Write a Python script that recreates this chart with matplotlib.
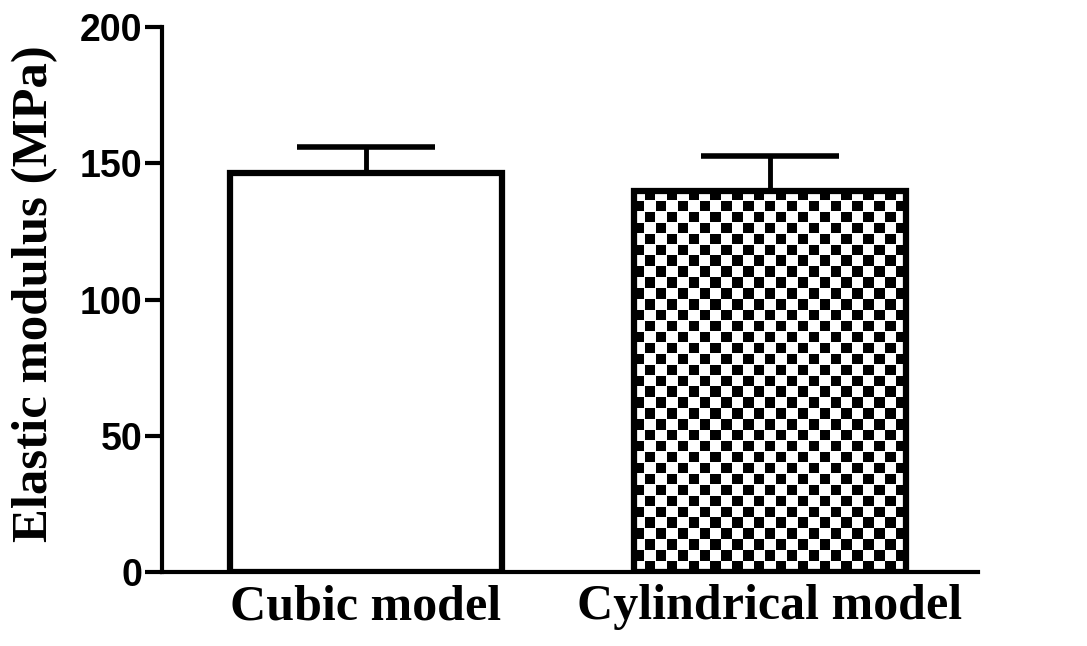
import numpy as np
import matplotlib.pyplot as plt

categories = ["Cubic model", "Cylindrical model"]
means = [146.5, 140.0]
errors = [9.5, 12.8]
y_ticks = [0, 50, 100, 150, 200]

fig = plt.figure(figsize=(10.87, 6.46), dpi=100)
ax = fig.add_axes([0.149, 0.1146, 0.7507, 0.8434])

x = np.arange(len(categories))
bars = ax.bar(x, means, width=0.675, facecolor="white", edgecolor="none", zorder=2)

ax.set_xlim(-0.505, 1.515)
ax.set_ylim(0, 200)

# error bars (upper only), drawn under the bar outline
ax.errorbar(x, means, yerr=[np.zeros(len(means)), errors], fmt="none",
            ecolor="black", elinewidth=3.5, capsize=50, capthick=4, zorder=1)

# checkerboard fill for second bar (cell ~11 px)
fig.canvas.draw()
b = bars[1]
x0, y0 = b.get_x(), b.get_y()
w, h = b.get_width(), b.get_height()
p0 = ax.transData.transform((x0, y0))
p1 = ax.transData.transform((x0 + w, y0 + h))
cell = 10.9
k = 20
nx = int(round((p1[0] - p0[0]) / cell))
ny = int(round((p1[1] - p0[1]) / cell))
base = (np.indices((ny, nx)).sum(axis=0) % 2)
fine = np.kron(base, np.ones((k, k)))
sub = np.zeros((k, k))
sub[0:19, 0:19] = 1
mask = np.tile(sub, (ny, nx))
checker = 1 - fine * mask
im = ax.imshow(checker, cmap="gray", vmin=0, vmax=1,
               extent=[x0, x0 + w, y0, y0 + h],
               interpolation="nearest", aspect="auto", origin="upper", zorder=2.5)
im.set_clip_path(b)

# outlines on top
ax.bar(x, means, width=0.675, facecolor="none", edgecolor="black",
       linewidth=4.5, zorder=3)

for side in ["top", "right"]:
    ax.spines[side].set_visible(False)
for side in ["left", "bottom"]:
    ax.spines[side].set_linewidth(3)
ax.spines["left"].set_zorder(4)
ax.spines["bottom"].set_zorder(4)

ax.set_yticks(y_ticks)
ax.set_yticklabels([str(t) for t in y_ticks], fontfamily="Liberation Sans",
                   fontweight="bold", fontsize=27)
ax.tick_params(axis="y", length=12, width=3, pad=2)
ax.set_xticks(x)
ax.set_xticklabels(categories, fontfamily="Liberation Serif",
                   fontweight="bold", fontsize=36)
ax.tick_params(axis="x", length=0, pad=9)

ax.set_ylabel("Elastic modulus (MPa)", fontfamily="Liberation Serif",
              fontweight="bold", fontsize=36.5)
ax.yaxis.set_label_coords(-0.127, 0.51)

fig.savefig("out.png", dpi=100)
